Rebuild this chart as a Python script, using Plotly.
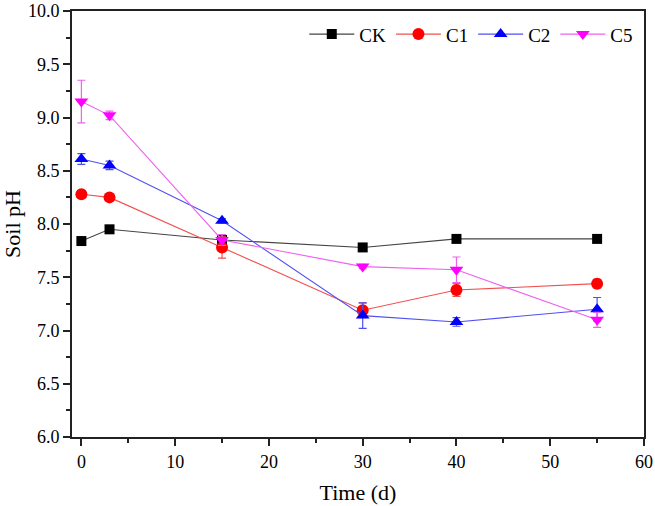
import plotly.graph_objects as go

time = [0, 3, 15, 30, 40, 55]

ck = [7.84, 7.95, 7.85, 7.78, 7.86, 7.86]
ck_err = [0.02, 0.02, 0.02, 0.02, 0.02, 0.02]

c1 = [8.28, 8.25, 7.78, 7.19, 7.38, 7.44]
c1_err = [0.03, 0.02, 0.10, 0.07, 0.06, 0.04]

c2 = [8.61, 8.55, 8.03, 7.14, 7.08, 7.20]
c2_err = [0.05, 0.04, 0.02, 0.12, 0.04, 0.11]

c5 = [9.15, 9.02, 7.85, 7.60, 7.57, 7.10]
c5_err = [0.20, 0.04, 0.05, 0.02, 0.12, 0.07]

series = [
    ("CK", ck, ck_err, "#000000", "#444444", "square", 10),
    ("C1", c1, c1_err, "#ff0000", "#f05050", "circle", 12),
    ("C2", c2, c2_err, "#0000ff", "#5050f0", "triangle-up", 12),
    ("C5", c5, c5_err, "#ff00ff", "#f060f0", "triangle-down", 12),
]

fig = go.Figure()
for name, vals, errs, mcol, lcol, sym, sz in series:
    fig.add_trace(go.Scatter(
        x=time, y=vals, name=name, mode="lines+markers",
        line=dict(color=lcol, width=1.1),
        marker=dict(symbol=sym, size=sz, color=mcol, line=dict(width=0)),
        error_y=dict(type="data", array=errs, visible=True, color=lcol,
                     thickness=1.2, width=4),
    ))

font_fam = "Liberation Serif, Times New Roman, serif"
fig.update_layout(
    width=655, height=506,
    margin=dict(l=72, r=11, t=11, b=69),
    paper_bgcolor="white", plot_bgcolor="white",
    font=dict(family=font_fam, size=18, color="black"),
    showlegend=True,
    legend=dict(orientation="h", x=0.99, y=0.99, xanchor="right", yanchor="top",
                font=dict(size=19, family=font_fam), bgcolor="rgba(0,0,0,0)",
                itemwidth=45, tracegroupgap=0),
)
fig.update_xaxes(
    range=[-1, 60], tickmode="array", tickvals=[0, 10, 20, 30, 40, 50, 60],
    ticks="outside", ticklen=7, tickwidth=2, tickcolor="#222",
    minor=dict(tickvals=[5, 15, 25, 35, 45, 55], ticks="outside", ticklen=4, tickwidth=2, tickcolor="#222"),
    showline=True, linecolor="#222", linewidth=2, mirror=True,
    showgrid=False, zeroline=False, automargin=False,
    title=dict(text="Time (d)", font=dict(size=22, family=font_fam), standoff=14),
    tickfont=dict(size=18, family=font_fam),
)
fig.update_yaxes(
    range=[6, 10], tickmode="array",
    tickvals=[6.0, 6.5, 7.0, 7.5, 8.0, 8.5, 9.0, 9.5, 10.0], tickformat=".1f",
    ticks="outside", ticklen=7, tickwidth=2, tickcolor="#222",
    minor=dict(tickvals=[6.25, 6.75, 7.25, 7.75, 8.25, 8.75, 9.25, 9.75], ticks="outside", ticklen=4, tickwidth=2, tickcolor="#222"),
    showline=True, linecolor="#222", linewidth=2, mirror=True,
    showgrid=False, zeroline=False, automargin=False,
    title=dict(text="Soil pH", font=dict(size=22, family=font_fam), standoff=8),
    tickfont=dict(size=18, family=font_fam),
)

fig.write_html("out.html", config={"displayModeBar": False},
               post_script="document.body.style.margin='0';")
